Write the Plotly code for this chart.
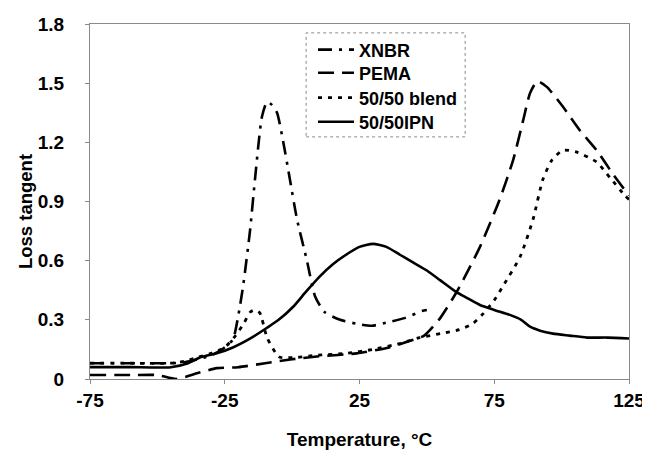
import plotly.graph_objects as go

# ---- data ----
xnbr_t = [-75, -60, -45, -40, -35, -30, -26, -22, -20, -18.2, -15.6, -13.8, -11.2, -9.3, -7.5, -5.6, -3.4, -0.8, 1.8, 5.5, 8.5, 12, 17.8, 24, 29.6, 36.3, 42, 48.2, 50]
xnbr_v = [0.08, 0.08, 0.08, 0.085, 0.10, 0.12, 0.15, 0.20, 0.32, 0.47, 0.755, 1.01, 1.33, 1.405, 1.39, 1.35, 1.21, 1.01, 0.81, 0.60, 0.42, 0.34, 0.30, 0.28, 0.27, 0.29, 0.31, 0.345, 0.35]

pema_t = [-75, -60, -50, -43, -35, -28, -20, -10, 0, 10, 24, 36, 43, 49, 55, 61, 63.4, 69.7, 77, 82, 85.7, 88.3, 91, 94.6, 100.5, 106.8, 113, 119, 125]
pema_v = [0.02, 0.02, 0.02, 0.0, 0.03, 0.055, 0.06, 0.08, 0.10, 0.115, 0.13, 0.16, 0.19, 0.22, 0.31, 0.44, 0.50, 0.67, 0.91, 1.11, 1.31, 1.45, 1.51, 1.48, 1.38, 1.26, 1.16, 1.04, 0.93]

blend_t = [-75, -60, -45, -40, -35, -30, -25, -21, -18, -15.5, -13.8, -12, -9.3, -6, -4.5, 2, 9, 20, 30, 40, 47.4, 55, 62, 67, 70.8, 75, 78.2, 84.6, 89.4, 93, 96.4, 100.5, 105.7, 113, 118, 123.5, 125]
blend_v = [0.08, 0.08, 0.08, 0.09, 0.11, 0.13, 0.16, 0.22, 0.28, 0.34, 0.35, 0.335, 0.21, 0.13, 0.11, 0.11, 0.12, 0.13, 0.15, 0.18, 0.21, 0.23, 0.25, 0.28, 0.33, 0.40, 0.47, 0.62, 0.81, 1.01, 1.11, 1.16, 1.15, 1.10, 1.02, 0.93, 0.91]

ipn_t = [-75, -60, -45, -38.6, -34, -28, -22, -15, -9.3, -5, 0.3, 5, 10.3, 15, 20, 25, 30, 35, 40, 45, 50, 55, 61, 65, 69.7, 75, 80.8, 85, 88.3, 92, 96.8, 103, 109.4, 117, 125]
ipn_v = [0.06, 0.06, 0.06, 0.08, 0.11, 0.13, 0.16, 0.21, 0.26, 0.30, 0.365, 0.44, 0.52, 0.58, 0.63, 0.67, 0.685, 0.67, 0.63, 0.59, 0.55, 0.50, 0.44, 0.41, 0.375, 0.35, 0.325, 0.30, 0.265, 0.245, 0.23, 0.22, 0.21, 0.21, 0.205]

series_names = ["XNBR", "PEMA", "50/50 blend", "50/50IPN"]
x_ticks = [-75, -25, 25, 75, 125]
y_ticks = [0, 0.3, 0.6, 0.9, 1.2, 1.5, 1.8]
y_tick_text = ["0", "0.3", "0.6", "0.9", "1.2", "1.5", "1.8"]

FONT = "Liberation Sans, Arial, sans-serif"

fig = go.Figure()
fig.add_trace(go.Scatter(x=xnbr_t, y=xnbr_v, name="<b>%s</b>" % series_names[0], mode="lines", legend="legend",
                         line=dict(color="black", width=2.6, dash="14px,7px,3px,7px", shape="spline", smoothing=0.6)))
fig.add_trace(go.Scatter(x=pema_t, y=pema_v, name="<b>%s</b>" % series_names[1], mode="lines", legend="legend2",
                         line=dict(color="black", width=2.6, dash="16px,8px", shape="spline", smoothing=0.6)))
fig.add_trace(go.Scatter(x=blend_t, y=blend_v, name="<b>%s</b>" % series_names[2], mode="lines", legend="legend3",
                         line=dict(color="black", width=2.8, dash="4px,6px", shape="spline", smoothing=0.6)))
fig.add_trace(go.Scatter(x=ipn_t, y=ipn_v, name="<b>%s</b>" % series_names[3], mode="lines", legend="legend4",
                         line=dict(color="black", width=2.6, shape="spline", smoothing=0.6)))

axis_common = dict(showgrid=False, zeroline=False, showline=True, linecolor="#8a8a8a", linewidth=1,
                   mirror=True, ticks="outside", ticklen=4, tickcolor="#8a8a8a", automargin=False,
                   tickfont=dict(family=FONT, size=19, color="black"))

fig.update_xaxes(range=[-75, 125], tickvals=x_ticks, ticktext=["<b>%s</b>" % v for v in x_ticks],
                 ticklabelstandoff=0,
                 title=dict(text="<b>Temperature, °C</b>", font=dict(family=FONT, size=19, color="black"), standoff=22),
                 **axis_common)
fig.update_yaxes(range=[0, 1.8], tickvals=y_ticks, ticktext=["<b>%s</b>" % v for v in y_tick_text],
                 ticklabelstandoff=17, **axis_common)

fig.add_annotation(text="<b>Loss tangent</b>", xref="paper", yref="paper", x=-0.1206, y=0.473,
                   textangle=-90, showarrow=False, xanchor="center", yanchor="middle",
                   font=dict(family=FONT, size=18.5, color="black"))

fig.add_shape(type="rect", xref="paper", yref="paper", x0=0.401, x1=0.696, y0=0.682, y1=0.975,
              line=dict(color="#8a8a8a", width=1, dash="dot"), layer="below")

leg = dict(x=0.4137, xanchor="left", yanchor="middle", bgcolor="rgba(0,0,0,0)", borderwidth=0,
           itemwidth=36, font=dict(family=FONT, size=18, color="black"))
row_y = [0.927, 0.862, 0.7915, 0.724]

# the page body adds an 8px offset: margins chosen so the plot area sits at x 90..629, y 24..379
fig.update_layout(
    width=650, height=457,
    margin=dict(l=82, r=29, t=16, b=86),
    paper_bgcolor="white", plot_bgcolor="white",
    showlegend=True,
    legend=dict(y=row_y[0], **leg),
    legend2=dict(y=row_y[1], **leg),
    legend3=dict(y=row_y[2], **leg),
    legend4=dict(y=row_y[3], **leg),
    font=dict(family=FONT, color="black"),
)

fig.write_html("out.html")
